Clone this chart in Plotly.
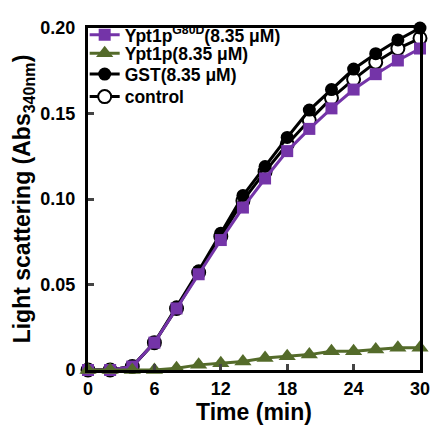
import plotly.graph_objects as go

time_min = [0, 2, 4, 6, 8, 10, 12, 14, 16, 18, 20, 22, 24, 26, 28, 30]
ypt1p_g80d = [0.000, 0.000, 0.002, 0.016, 0.036, 0.056, 0.076, 0.095, 0.112, 0.128, 0.141, 0.153, 0.164, 0.173, 0.181, 0.188]
ypt1p = [0.000, 0.000, 0.000, 0.000, 0.001, 0.003, 0.004, 0.005, 0.007, 0.008, 0.009, 0.011, 0.011, 0.012, 0.013, 0.013]
gst = [0.000, 0.000, 0.002, 0.016, 0.037, 0.058, 0.080, 0.102, 0.119, 0.136, 0.152, 0.164, 0.176, 0.185, 0.193, 0.200]
control = [0.000, 0.000, 0.002, 0.016, 0.036, 0.057, 0.078, 0.099, 0.116, 0.132, 0.146, 0.159, 0.170, 0.180, 0.188, 0.194]

x_ticks = [0, 6, 12, 18, 24, 30]
y_ticks = [0, 0.05, 0.10, 0.15, 0.20]
y_tick_labels = ["0", "0.05", "0.10", "0.15", "0.20"]

PURPLE = "#7434a8"
GREEN = "#546b2a"
FONT = "Liberation Sans"

fig = go.Figure()

fig.add_trace(go.Scatter(
    x=time_min, y=control, mode="lines+markers", name="control", legend="legend4",
    line=dict(color="black", width=3),
    marker=dict(symbol="circle", size=13, color="white", line=dict(color="black", width=2)),
    cliponaxis=False))
fig.add_trace(go.Scatter(
    x=time_min, y=gst, mode="lines+markers", name="GST(8.35 μM)", legend="legend3",
    line=dict(color="black", width=3),
    marker=dict(symbol="circle", size=13, color="black"),
    cliponaxis=False))
fig.add_trace(go.Scatter(
    x=time_min, y=ypt1p_g80d, mode="lines+markers", name="Ypt1p<sup>G80D</sup>(8.35 μM)", legend="legend",
    line=dict(color=PURPLE, width=3),
    marker=dict(symbol="square", size=12, color=PURPLE),
    cliponaxis=False))
fig.add_trace(go.Scatter(
    x=time_min, y=ypt1p, mode="lines+markers", name="Ypt1p(8.35 μM)", legend="legend2",
    line=dict(color=GREEN, width=3),
    marker=dict(symbol="triangle-up", size=15, color=GREEN),
    cliponaxis=False))


def leg(yv):
    return dict(x=-0.01, y=yv, xanchor="left", yanchor="middle",
                bgcolor="rgba(0,0,0,0)", borderwidth=0,
                font=dict(family=FONT, size=17.5, color="black", weight="bold"),
                itemwidth=30, tracegroupgap=0)


fig.update_layout(
    width=431, height=417,
    margin=dict(l=80, r=9, t=13, b=55),
    paper_bgcolor="white", plot_bgcolor="white",
    font=dict(family=FONT, color="black", size=16),
    showlegend=True,
    legend=leg(0.980), legend2=leg(0.926), legend3=leg(0.865), legend4=leg(0.799),
    xaxis=dict(range=[0, 30], tickvals=x_ticks, ticks="inside", ticklen=6, tickwidth=2.5,
               showline=True, linewidth=3, linecolor="black", mirror=True,
               showgrid=False, zeroline=False, ticklabeloverflow="allow",
               tickfont=dict(family=FONT, size=18, weight="bold"),
               title=dict(text="Time (min)", font=dict(family=FONT, size=23, weight="bold"), standoff=1)),
    yaxis=dict(range=[0, 0.20], tickvals=y_ticks, ticktext=y_tick_labels, ticks="inside", ticklen=6, tickwidth=2.5,
               showline=True, linewidth=3, linecolor="black", mirror=True,
               showgrid=False, zeroline=False, ticklabeloverflow="allow", ticklabelstandoff=6,
               tickfont=dict(family=FONT, size=18, weight="bold"),
               title=dict(text="Light scattering (Abs<sub>340nm</sub>)", font=dict(family=FONT, size=23, weight="bold"), standoff=4)),
)

fig.write_html("out.html")
